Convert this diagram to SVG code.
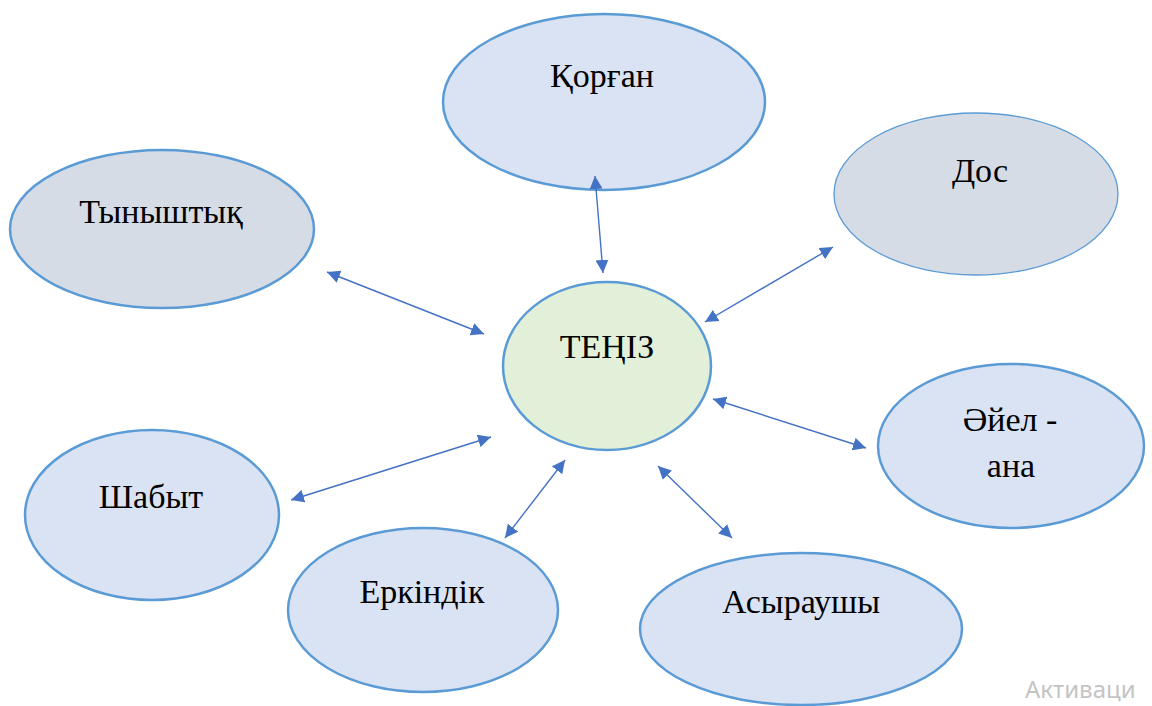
<svg xmlns="http://www.w3.org/2000/svg" width="1152" height="706" viewBox="0 0 1152 706">
<style>
.n{stroke:#5B9BD5;stroke-width:2.5}
.blue{fill:#DAE3F3}
.gray{fill:#D6DCE5}
.green{fill:#E2F0D9}
.t{font-family:'Liberation Serif','Times New Roman','DejaVu Serif',serif;font-size:34px;fill:#000;text-anchor:middle}
.c{stroke:#4472C4;stroke-width:1.4;fill:none;marker-start:url(#ah);marker-end:url(#ah)}
.wm{font-family:'Noto Sans','Open Sans',sans-serif;font-size:24px;fill:#C4C4C4}
</style>
<defs>
<marker id="ah" markerUnits="userSpaceOnUse" markerWidth="14" markerHeight="14" viewBox="0 0 14 14" refX="13" refY="7" orient="auto-start-reverse">
<path d="M0,0.5 L13,7 L0,13.5 z" fill="#4472C4"/>
</marker>
</defs>
<rect width="1152" height="706" fill="#fff"/>
<g id="korgan">
<ellipse class="n blue" cx="604" cy="102" rx="161" ry="88"/>
<text class="t" x="602" y="87" font-family="Liberation Serif, serif">Қорған</text>
</g>
<g id="tynyshtyk">
<ellipse class="n gray" cx="162" cy="229" rx="152" ry="79"/>
<text class="t" x="161" y="223" font-family="Liberation Serif, serif">Тыныштық</text>
</g>
<g id="dos">
<ellipse class="gray" stroke="#5B9BD5" stroke-width="1.3" cx="976" cy="194" rx="142" ry="81"/>
<text class="t" x="980" y="182" font-family="Liberation Serif, serif">Дос</text>
</g>
<g id="teniz">
<ellipse class="n green" cx="607" cy="366" rx="104" ry="84"/>
<text class="t" x="607" y="358" font-family="Liberation Serif, serif">ТЕҢІЗ</text>
</g>
<g id="ayel-ana">
<ellipse class="n blue" cx="1011" cy="446" rx="133" ry="82"/>
<text class="t" x="1010" y="431" font-family="Liberation Serif, serif">Әйел -</text>
<text class="t" x="1011" y="477" font-family="Liberation Serif, serif">ана</text>
</g>
<g id="shabyt">
<ellipse class="n blue" cx="152" cy="515" rx="127" ry="85"/>
<text class="t" x="151" y="508" font-family="Liberation Serif, serif">Шабыт</text>
</g>
<g id="erkindik">
<ellipse class="n blue" cx="423" cy="610" rx="135" ry="82"/>
<text class="t" x="422" y="603" font-family="Liberation Serif, serif">Еркіндік</text>
</g>
<g id="asyraushy">
<ellipse class="n blue" cx="801" cy="629" rx="161" ry="76"/>
<text class="t" x="801" y="613" font-family="Liberation Serif, serif">Асыраушы</text>
</g>
<g id="connectors">
<line class="c" x1="595" y1="176" x2="603" y2="273"/>
<line class="c" x1="327" y1="272" x2="484" y2="334"/>
<line class="c" x1="833" y1="247" x2="705" y2="322"/>
<line class="c" x1="713" y1="399" x2="866" y2="448"/>
<line class="c" x1="291" y1="500" x2="491" y2="437"/>
<line class="c" x1="565" y1="460" x2="505" y2="538"/>
<line class="c" x1="658" y1="466" x2="732" y2="538"/>
</g>
<text class="wm" x="1025" y="698">Активаци</text>
</svg>
